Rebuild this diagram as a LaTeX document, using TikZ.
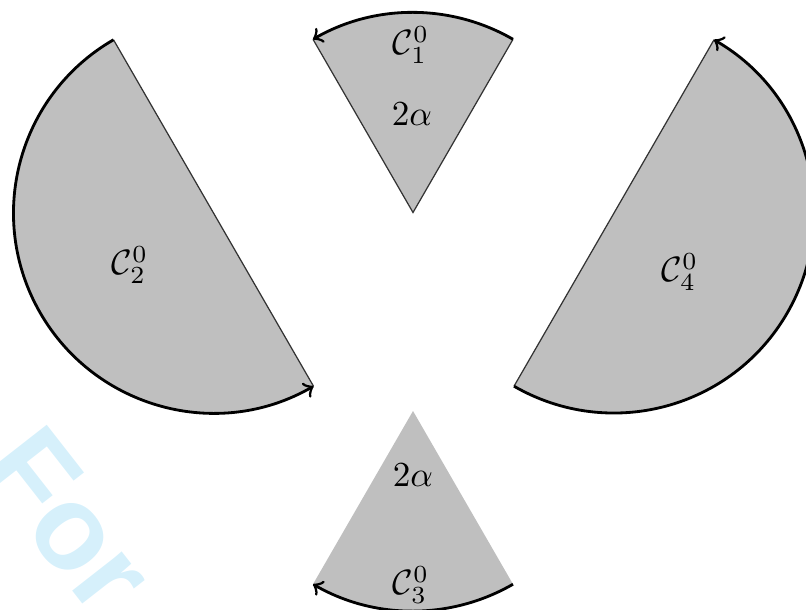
\documentclass[tikz,border=0pt]{standalone}
\usepackage{fontspec}
\usetikzlibrary{calc}
\newfontfamily\wmfont{Liberation Sans}
\definecolor{sectgray}{RGB}{191,191,191}
\definecolor{wmcyan}{RGB}{214,240,251}
\begin{document}
\begin{tikzpicture}[
  sector/.style={fill=sectgray},
  edge/.style={draw=black!80, line width=0.35pt},
  rim/.style={draw=black, line width=0.8pt, ->},
  lbl/.style={inner sep=0pt},
  wm/.style={text=wmcyan, font=\wmfont\bfseries\fontsize{34}{36}\selectfont, inner sep=0pt}
]
\useasboundingbox (0,0) rectangle (8.06,6.09);
\begin{scope}
\clip (0,0) rectangle (8.06,6.09);
\node[wm, anchor=base west, rotate=-52] (wmark) at (-0.226,1.40) {For};
\end{scope}
% centres
\coordinate (T) at (4.13,3.965);
\coordinate (B) at (4.13,1.98);
\coordinate (L) at (2.135,3.96);
\coordinate (R) at (6.14,3.96);
% top sector
\fill[sector] (T) -- ++(60:2) arc[start angle=60,end angle=120,radius=2] -- cycle;
\draw[edge] ($(T)+(120:2)$) -- (T) -- ($(T)+(60:2)$);
\draw[rim] ($(T)+(60:2)$) arc[start angle=60,end angle=120,radius=2];
% bottom sector
\fill[sector] (B) -- ++(300:2) arc[start angle=300,end angle=240,radius=2] -- cycle;
\draw[rim] ($(B)+(300:2)$) arc[start angle=300,end angle=240,radius=2];
% left sector
\fill[sector] ($(L)+(120:2)$) arc[start angle=120,end angle=300,radius=2] -- cycle;
\draw[edge] ($(L)+(120:2)$) -- ($(L)+(300:2)$);
\draw[rim] ($(L)+(120:2)$) arc[start angle=120,end angle=300,radius=2];
% right sector
\fill[sector] ($(R)+(240:2)$) arc[start angle=240,end angle=420,radius=2] -- cycle;
\draw[edge] ($(R)+(240:2)$) -- ($(R)+(60:2)$);
\draw[rim] ($(R)+(240:2)$) arc[start angle=240,end angle=420,radius=2];
% labels
\node[lbl] (c1) at (4.11,5.64) {$\mathcal{C}_1^0$};
\node[lbl] (a1) at (4.12,4.95) {$2\alpha$};
\node[lbl] (c2) at (1.30,3.44) {$\mathcal{C}_2^0$};
\node[lbl] (c4) at (6.80,3.37) {$\mathcal{C}_4^0$};
\node[lbl] (a2) at (4.13,1.34) {$2\alpha$};
\node[lbl] (c3) at (4.11,0.24) {$\mathcal{C}_3^0$};
\end{tikzpicture}
\end{document}
